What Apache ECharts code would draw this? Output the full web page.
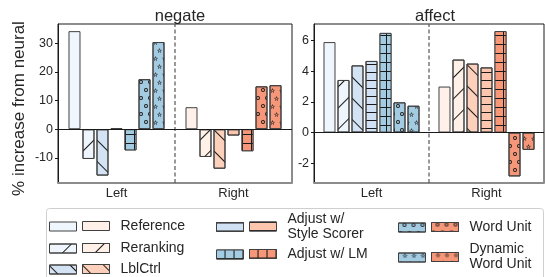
<!DOCTYPE html>
<html>
<head>
<meta charset="utf-8">
<script src="https://cdn.jsdelivr.net/npm/echarts@6/dist/echarts.min.js"></script>
<style>
  html, body { margin: 0; padding: 0; background: #fff; }
  #chart { width: 545px; height: 277px; }
</style>
</head>
<body>
<div id="chart"></div>
<script>
// data
const methods = ['Reference', 'Reranking', 'LblCtrl', 'Adjust w/ Style Scorer', 'Adjust w/ LM', 'Word Unit', 'Dynamic Word Unit'];
const legendLabels = ['Reference', 'Reranking', 'LblCtrl', 'Adjust w/\nStyle Scorer', 'Adjust w/ LM', 'Word Unit', 'Dynamic\nWord Unit'];
const groups = ['Left', 'Right'];
const panelTitles = ['negate', 'affect'];
const negateLeft = [34.3, -10.4, -16.2, 0.3, -7.4, 17.5, 30.5];
const negateRight = [7.7, -9.7, -13.8, -2.2, -7.7, 15.0, 15.4];
const affectLeft = [5.9, 3.43, 4.38, 4.67, 6.5, 1.97, 1.75];
const affectRight = [3.0, 4.76, 4.5, 4.25, 6.62, -2.86, -1.13];
const yMin = [-18.8, -3.29];
const yMax = [36.8, 7.08];

// colours
const blues = ['#f0f6fd', '#eef5fc', '#d3e3f3', '#cfe1f2', '#a3cce3', '#a3cce3', '#a3cce3'];
const reds = ['#fff1ea', '#fff0e8', '#fdd0bb', '#fcc6ae', '#f6977a', '#f6977a', '#f6977a'];
const ink = '#1a1a1a';
const edge = '#404040';
const txt = '#262626';
const font = 'Liberation Sans, Arial, sans-serif';

const panelData = [[negateLeft, negateRight], [affectLeft, affectRight]];

// hollow circle and hollow star for the hatches
const ring = 'path://M0,-10A10,10,0,1,1,0,10A10,10,0,1,1,0,-10ZM0,-5.5A5.5,5.5,0,1,0,0,5.5A5.5,5.5,0,1,0,0,-5.5Z';
function starPts(R, r, rev) {
  const a = [];
  for (let k = 0; k < 10; k++) {
    const ang = (-90 + 36 * k) * Math.PI / 180;
    const rad = k % 2 ? r : R;
    a.push((Math.cos(ang) * rad).toFixed(2) + ',' + (Math.sin(ang) * rad).toFixed(2));
  }
  if (rev) a.reverse();
  return 'M' + a.join('L') + 'Z';
}
const star = 'path://' + starPts(10, 4.2, false) + starPts(5.6, 2.3, true);

function hatch(i, fill) {
  if (i === 1) return { symbol: 'rect', symbolSize: 1, color: ink, dashArrayX: [1, 0], dashArrayY: [1, 14], rotation: -Math.PI / 4 };
  if (i === 2) return { symbol: 'rect', symbolSize: 1, color: ink, dashArrayX: [1, 0], dashArrayY: [1, 14], rotation: Math.PI / 4 };
  if (i === 3) return { symbol: 'rect', symbolSize: 1, color: ink, dashArrayX: [1, 0], dashArrayY: [1, 7] };
  if (i === 4) return { symbol: 'rect', symbolSize: 1, color: fill, backgroundColor: ink, dashArrayX: [8, 1], dashArrayY: [8, 1] };
  if (i === 5) return { symbol: ring, symbolSize: 1, color: ink, dashArrayX: [[4, 5], [0, 4, 4, 1]], dashArrayY: [4, 4] };
  if (i === 6) return { symbol: star, symbolSize: 1, color: ink, dashArrayX: [[5, 4], [0, 4, 5, 0]], dashArrayY: [5, 3] };
  return null;
}

const grids = [
  { left: 58, right: 253, top: 24, bottom: 94 },
  { left: 314, right: 1, top: 24, bottom: 94 }
];

const xAxes = [];
const yAxes = [];
const series = [];
const titles = [];

grids.forEach((g, p) => {
  xAxes.push({
    type: 'category', gridIndex: p, data: groups,
    axisTick: { show: false },
    axisLine: { onZero: false, lineStyle: { color: '#8c8c8c', width: 2 } },
    axisLabel: { color: txt, fontSize: 13, fontFamily: font, margin: 4 }
  });
  xAxes.push({ type: 'value', gridIndex: p, min: -0.5, max: 1.5, show: false });
  yAxes.push({
    type: 'value', gridIndex: p, min: yMin[p], max: yMax[p], splitNumber: 5,
    splitLine: { show: false },
    axisLine: { show: true, onZero: false, lineStyle: { color: ink, width: 1 } },
    axisTick: { show: true, length: 3, lineStyle: { color: ink } },
    axisLabel: { color: txt, fontSize: 12.5, fontFamily: font, margin: 5, showMinLabel: false, showMaxLabel: false },
    name: p === 0 ? '% increase from neural' : '',
    nameLocation: 'middle', nameGap: 30,
    nameTextStyle: { color: txt, fontSize: 17, fontFamily: font, padding: [0, 10, 0, 0] }
  });
  titles.push({
    text: panelTitles[p], left: p === 0 ? 175 : 430, top: 3, textAlign: 'center',
    textStyle: { color: txt, fontSize: 16.5, fontWeight: 'normal', fontFamily: font }
  });

  methods.forEach((m, i) => {
    const vals = panelData[p];
    [0, 1].forEach(side => {
      const fill = side === 0 ? blues[i] : reds[i];
      series.push({
        type: 'bar', name: m + (side === 0 ? '#L' : '#R'),
        xAxisIndex: 2 * p, yAxisIndex: p,
        stack: 'p' + p + 'm' + i,
        barWidth: 12, barGap: '16.7%',
        data: side === 0 ? [vals[0][i], '-'] : ['-', vals[1][i]],
        itemStyle: { color: fill, borderColor: edge, borderWidth: 1, decal: hatch(i, fill) }
      });
    });
  });

  // dashed divider between Left and Right, plus zero line
  series.push({
    type: 'line', xAxisIndex: 2 * p + 1, yAxisIndex: p, silent: true, z: 4,
    data: [[0.5, yMin[p]], [0.5, yMax[p]]], symbol: 'none',
    lineStyle: { color: '#555', width: 1.2, type: [4, 2.5] },
    markLine: {
      silent: true, symbol: 'none', label: { show: false },
      lineStyle: { color: ink, width: 1.2, type: 'solid' },
      data: [{ yAxis: 0 }]
    }
  });
});

// legend: each row gets a blue icon, then a red icon with the label
const legendPos = [[49, 226], [49, 248], [49, 269], [216, 226.5], [216, 254], [398, 227], [398, 257]];
const legends = [];
const legendBase = {
  orient: 'vertical', padding: 0, itemWidth: 27, itemHeight: 9, selectedMode: false,
  icon: 'rect', itemStyle: { borderColor: edge, borderWidth: 1 }
};
methods.forEach((m, i) => {
  const [x, cy] = legendPos[i];
  const lines = legendLabels[i].split('\n').length;
  legends.push(Object.assign({}, legendBase, {
    left: x, top: cy - 4.5, data: [m + '#L'], formatter: () => '',
    textStyle: { fontSize: 1, lineHeight: 1 }
  }));
  legends.push(Object.assign({}, legendBase, {
    left: x + 33, top: cy - lines * 15 / 2, data: [m + '#R'], formatter: () => legendLabels[i],
    textStyle: { color: txt, fontSize: 14, lineHeight: 15, fontFamily: font, padding: [0, 0, 0, 6] }
  }));
});

const myChart = echarts.init(document.getElementById('chart'));
myChart.setOption({
  animation: false,
  backgroundColor: '#fff',
  title: titles,
  grid: grids.map(g => Object.assign({ show: true, borderColor: ink, borderWidth: 1 }, g)),
  xAxis: xAxes,
  yAxis: yAxes,
  legend: legends,
  graphic: [{
    type: 'rect', left: 44, top: 206, z: -1,
    shape: { width: 497, height: 90, r: 3 },
    style: { fill: 'none', stroke: '#cfcfcf', lineWidth: 1 }
  }],
  series: series
});
</script>
</body>
</html>
